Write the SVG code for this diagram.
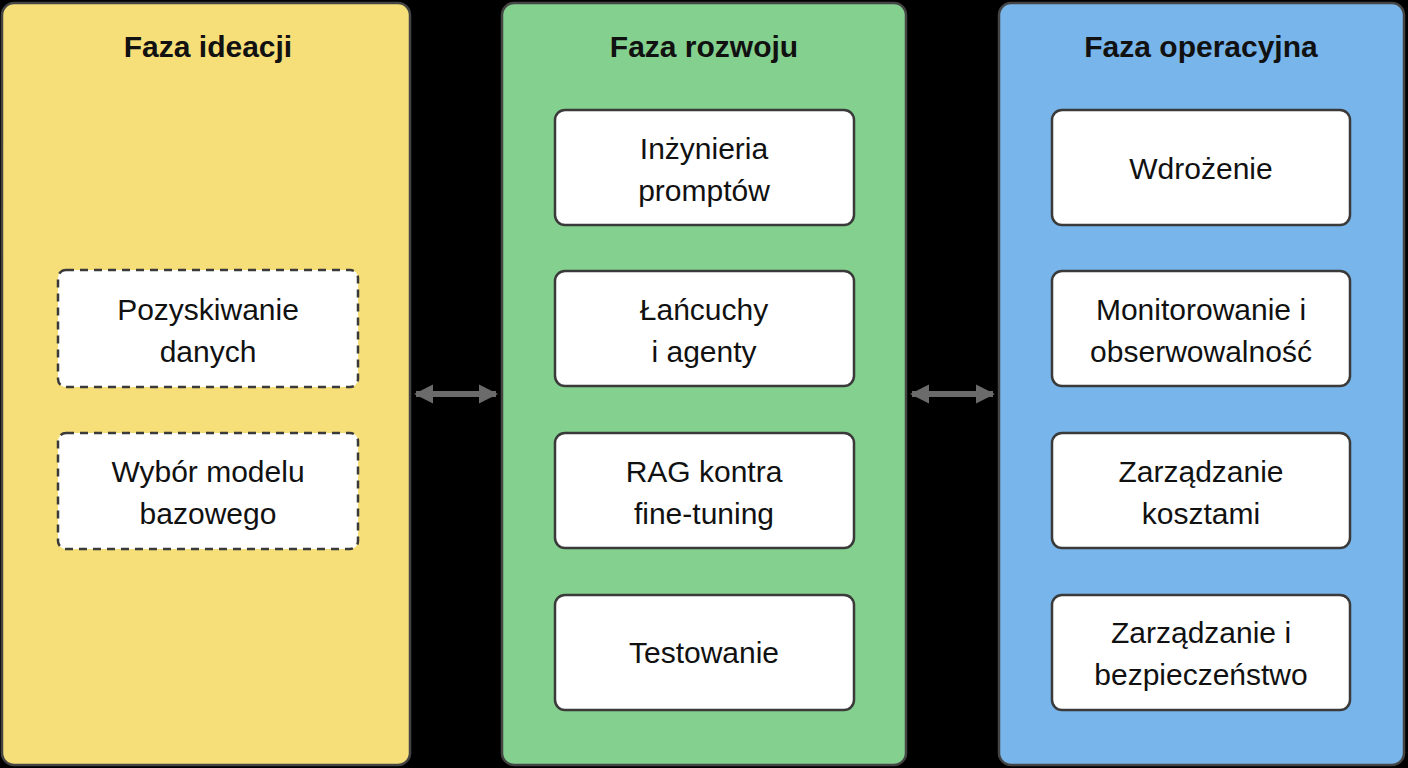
<svg xmlns="http://www.w3.org/2000/svg" width="1408" height="768" viewBox="0 0 1408 768">
<style>
.panel{stroke:#444;stroke-width:2.5}
.box{fill:#fff;stroke:#3a3a3a;stroke-width:2.5}
.dash{stroke-dasharray:8 6}
.t{font-family:"Liberation Sans",Arial,sans-serif;font-size:30px;fill:#111;text-anchor:middle}
.h{font-family:"Liberation Sans",Arial,sans-serif;font-size:30px;font-weight:bold;fill:#111;text-anchor:middle}
.c{stroke:#6b6b6b;stroke-width:6;fill:none}
</style>
<defs>
<marker id="a" viewBox="0 0 10 10" refX="9" refY="5" markerWidth="3.2" markerHeight="3.2" orient="auto-start-reverse"><path d="M0,0L10,5L0,10z" fill="#6b6b6b"/></marker>
</defs>
<rect width="1408" height="768" fill="#000"/>
<g id="ideacja">
<rect class="panel" x="2" y="3" width="408" height="762" rx="12" fill="#f6df78"/>
<text class="h" x="208" y="57">Faza ideacji</text>
<g id="n1"><rect class="box dash" x="58" y="270" width="300" height="117" rx="8"/><text class="t" x="208" y="320">Pozyskiwanie</text><text class="t" x="208" y="362">danych</text></g>
<g id="n2"><rect class="box dash" x="58" y="433" width="300" height="116" rx="8"/><text class="t" x="208" y="482">Wybór modelu</text><text class="t" x="208" y="524">bazowego</text></g>
</g>
<g id="rozwoj">
<rect class="panel" x="502" y="3" width="404" height="762" rx="12" fill="#84d08e"/>
<text class="h" x="704" y="57">Faza rozwoju</text>
<g id="n3"><rect class="box" x="555" y="110" width="299" height="115" rx="10"/><text class="t" x="704" y="159">Inżynieria</text><text class="t" x="704" y="201">promptów</text></g>
<g id="n4"><rect class="box" x="555" y="271" width="299" height="115" rx="10"/><text class="t" x="704" y="320">Łańcuchy</text><text class="t" x="704" y="362">i agenty</text></g>
<g id="n5"><rect class="box" x="555" y="433" width="299" height="115" rx="10"/><text class="t" x="704" y="482">RAG kontra</text><text class="t" x="704" y="524">fine-tuning</text></g>
<g id="n6"><rect class="box" x="555" y="595" width="299" height="115" rx="10"/><text class="t" x="704" y="663">Testowanie</text></g>
</g>
<g id="operacyjna">
<rect class="panel" x="999" y="3" width="405" height="762" rx="12" fill="#78b5ea"/>
<text class="h" x="1201" y="57">Faza operacyjna</text>
<g id="n7"><rect class="box" x="1052" y="110" width="298" height="115" rx="10"/><text class="t" x="1201" y="179">Wdrożenie</text></g>
<g id="n8"><rect class="box" x="1052" y="271" width="298" height="115" rx="10"/><text class="t" x="1201" y="320">Monitorowanie i</text><text class="t" x="1201" y="362">obserwowalność</text></g>
<g id="n9"><rect class="box" x="1052" y="433" width="298" height="115" rx="10"/><text class="t" x="1201" y="482">Zarządzanie</text><text class="t" x="1201" y="524">kosztami</text></g>
<g id="n10"><rect class="box" x="1052" y="595" width="298" height="115" rx="10"/><text class="t" x="1201" y="643">Zarządzanie i</text><text class="t" x="1201" y="685">bezpieczeństwo</text></g>
</g>
<g id="connectors">
<line class="c" x1="416" y1="394" x2="496" y2="394" marker-start="url(#a)" marker-end="url(#a)"/>
<line class="c" x1="912" y1="394" x2="993" y2="394" marker-start="url(#a)" marker-end="url(#a)"/>
</g>
</svg>
